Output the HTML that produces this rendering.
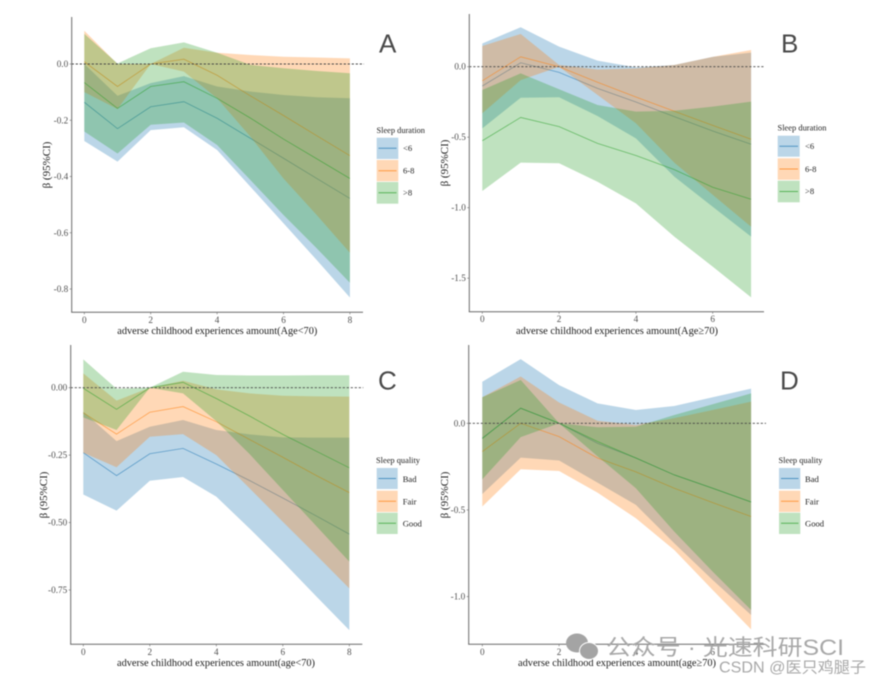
<!DOCTYPE html>
<html lang="en">
<head>
<meta charset="utf-8">
<title>Sleep and adverse childhood experiences</title>
<style>
html,body{margin:0;padding:0;background:#fff;width:870px;height:682px;overflow:hidden}
svg{display:block;filter:blur(0.5px)}
.tt{font-family:"Liberation Serif",serif;font-size:11px;fill:#1c1c1c}
.lt{font-family:"Liberation Serif",serif;font-size:8.6px;fill:#1c1c1c}
.li{font-family:"Liberation Serif",serif;font-size:8.6px;fill:#222}
.tick{font-family:"Liberation Serif",serif;font-size:9.2px;fill:#505050}
.tag{font-family:"Liberation Sans",sans-serif;font-size:26px;fill:#4a4a4a}
.wm{font-family:"Liberation Sans","Noto Sans CJK SC",sans-serif;fill:#a8a8a8}
</style>
</head>
<body>
<svg id="fig" xmlns="http://www.w3.org/2000/svg" width="870" height="682" viewBox="0 0 870 682">
  <rect width="870" height="682" fill="#fff"/>
  <g id="plots"></g>

  <text class="tag" x="379" y="52.5">A</text>
  <text class="tag" x="781" y="52.5">B</text>
  <text class="tag" x="378" y="389.5">C</text>
  <text class="tag" x="780" y="389.5">D</text>

  <text class="tt" x="217.3" y="334" text-anchor="middle" textLength="200" lengthAdjust="spacingAndGlyphs">adverse childhood experiences amount(Age&lt;70)</text>
  <text class="tt" x="617" y="334" text-anchor="middle" textLength="202" lengthAdjust="spacingAndGlyphs">adverse childhood experiences amount(Age≥70)</text>
  <text class="tt" x="216" y="666" text-anchor="middle" textLength="198" lengthAdjust="spacingAndGlyphs">adverse childhood experiences amount(age&lt;70)</text>
  <text class="tt" x="617" y="666" text-anchor="middle" textLength="198" lengthAdjust="spacingAndGlyphs">adverse childhood experiences amount(age≥70)</text>

  <text class="tt" transform="translate(50,165) rotate(-90)" text-anchor="middle">β (95%CI)</text>
  <text class="tt" transform="translate(448,163) rotate(-90)" text-anchor="middle">β (95%CI)</text>
  <text class="tt" transform="translate(47,495) rotate(-90)" text-anchor="middle">β (95%CI)</text>
  <text class="tt" transform="translate(448,495) rotate(-90)" text-anchor="middle">β (95%CI)</text>

  <g>
    <text class="lt" x="376.5" y="133" textLength="48.5" lengthAdjust="spacingAndGlyphs">Sleep duration</text>
    <rect x="376.7" y="137.7" width="21.6" height="21.3" fill="#1f77b4" fill-opacity=".3"/>
    <line x1="378.5" x2="396.5" y1="148.3" y2="148.3" stroke="#1f77b4" stroke-opacity=".7"/>
    <text class="li" x="403" y="151">&lt;6</text>
    <rect x="376.7" y="160" width="21.6" height="21.3" fill="#ff7f0e" fill-opacity=".3"/>
    <line x1="378.5" x2="396.5" y1="170.7" y2="170.7" stroke="#ff7f0e" stroke-opacity=".7"/>
    <text class="li" x="403" y="173.5">6-8</text>
    <rect x="376.7" y="182" width="21.6" height="21.7" fill="#2ca02c" fill-opacity=".3"/>
    <line x1="378.5" x2="396.5" y1="192.8" y2="192.8" stroke="#2ca02c" stroke-opacity=".7"/>
    <text class="li" x="403" y="195.5">&gt;8</text>
  </g>

  <g>
    <text class="lt" x="777.5" y="130.5" textLength="49" lengthAdjust="spacingAndGlyphs">Sleep duration</text>
    <rect x="777.7" y="135.7" width="22" height="21" fill="#1f77b4" fill-opacity=".3"/>
    <line x1="779.5" x2="798" y1="146.2" y2="146.2" stroke="#1f77b4" stroke-opacity=".7"/>
    <text class="li" x="805" y="149">&lt;6</text>
    <rect x="777.7" y="158.3" width="22" height="21.5" fill="#ff7f0e" fill-opacity=".3"/>
    <line x1="779.5" x2="798" y1="169" y2="169" stroke="#ff7f0e" stroke-opacity=".7"/>
    <text class="li" x="805" y="172">6-8</text>
    <rect x="777.7" y="180.7" width="22" height="21.6" fill="#2ca02c" fill-opacity=".3"/>
    <line x1="779.5" x2="798" y1="191.5" y2="191.5" stroke="#2ca02c" stroke-opacity=".7"/>
    <text class="li" x="805" y="194">&gt;8</text>
  </g>

  <g>
    <text class="lt" x="376" y="463" textLength="44" lengthAdjust="spacingAndGlyphs">Sleep quality</text>
    <rect x="376.7" y="468" width="21" height="21" fill="#1f77b4" fill-opacity=".3"/>
    <line x1="378.5" x2="396" y1="478.5" y2="478.5" stroke="#1f77b4" stroke-opacity=".7"/>
    <text class="li" x="402.7" y="482">Bad</text>
    <rect x="376.7" y="490.7" width="21" height="21.3" fill="#ff7f0e" fill-opacity=".3"/>
    <line x1="378.5" x2="396" y1="501.3" y2="501.3" stroke="#ff7f0e" stroke-opacity=".7"/>
    <text class="li" x="402.7" y="504.5">Fair</text>
    <rect x="376.7" y="512.7" width="21" height="21.3" fill="#2ca02c" fill-opacity=".3"/>
    <line x1="378.5" x2="396" y1="523.3" y2="523.3" stroke="#2ca02c" stroke-opacity=".7"/>
    <text class="li" x="402.7" y="526.5">Good</text>
  </g>

  <g>
    <text class="lt" x="778.5" y="463" textLength="44" lengthAdjust="spacingAndGlyphs">Sleep quality</text>
    <rect x="779" y="468" width="21.3" height="21" fill="#1f77b4" fill-opacity=".3"/>
    <line x1="781" x2="798.5" y1="478.5" y2="478.5" stroke="#1f77b4" stroke-opacity=".7"/>
    <text class="li" x="805" y="482">Bad</text>
    <rect x="779" y="490.7" width="21.3" height="21.3" fill="#ff7f0e" fill-opacity=".3"/>
    <line x1="781" x2="798.5" y1="501.3" y2="501.3" stroke="#ff7f0e" stroke-opacity=".7"/>
    <text class="li" x="805" y="504.5">Fair</text>
    <rect x="779" y="512.7" width="21.3" height="21.3" fill="#2ca02c" fill-opacity=".3"/>
    <line x1="781" x2="798.5" y1="523.3" y2="523.3" stroke="#2ca02c" stroke-opacity=".7"/>
    <text class="li" x="805" y="526.5">Good</text>
  </g>

  <g>
    <g fill="#a4a4a4">
      <ellipse cx="577" cy="643" rx="11" ry="9.5"/>
      <ellipse cx="589" cy="651" rx="9.5" ry="8.5" stroke="#fff" stroke-width="1"/>
    </g>
    <text class="wm" x="606" y="655" font-size="22" textLength="238" lengthAdjust="spacingAndGlyphs">公众号 · 光速科研SCI</text>
    <text class="wm" x="719" y="672.5" font-size="15.5" textLength="147" lengthAdjust="spacingAndGlyphs">CSDN @医只鸡腿子</text>
  </g>
</svg>

<script>
// ---- Shared categories and colours ----
const amountsToEight = [0, 1, 2, 3, 4, 5, 6, 7, 8];
const amountsToSeven = [0, 1, 2, 3, 4, 5, 6, 7];
const xTicksEight = [0, 2, 4, 6, 8];
const xTicksSix = [0, 2, 4, 6];

// ---- Panel A ----
const aShortMean  = [-0.136, -0.230, -0.152, -0.134, -0.193, -0.264, -0.335, -0.407, -0.478];
const aShortUpper = [0.000, -0.113, -0.068, -0.043, -0.080, -0.098, -0.110, -0.118, -0.122];
const aShortLower = [-0.274, -0.347, -0.235, -0.225, -0.306, -0.436, -0.566, -0.697, -0.830];
const aMidMean    = [0.008, -0.080, 0.000, 0.017, -0.040, -0.113, -0.183, -0.255, -0.326];
const aMidUpper   = [0.118, 0.000, 0.000, 0.058, 0.040, 0.032, 0.026, 0.023, 0.020];
const aMidLower   = [-0.100, -0.160, 0.000, -0.027, -0.122, -0.258, -0.407, -0.537, -0.671];
const aLongMean   = [-0.066, -0.158, -0.080, -0.063, -0.122, -0.192, -0.267, -0.337, -0.407];
const aLongUpper  = [0.107, 0.002, 0.056, 0.077, 0.040, -0.003, -0.015, -0.025, -0.033];
const aLongLower  = [-0.240, -0.318, -0.216, -0.208, -0.288, -0.412, -0.537, -0.655, -0.778];
const aYTicks = [0, -0.2, -0.4, -0.6, -0.8];
const aYLabels = ["0.0", "-0.2", "-0.4", "-0.6", "-0.8"];

// ---- Panel B ----
const bShortMean  = [-0.137, 0.028, -0.040, -0.154, -0.250, -0.354, -0.456, -0.550];
const bShortUpper = [0.165, 0.280, 0.142, 0.043, -0.005, 0.012, 0.070, 0.100];
const bShortLower = [-0.437, -0.220, -0.217, -0.350, -0.508, -0.780, -0.993, -1.205];
const bMidMean    = [-0.100, 0.070, 0.000, -0.110, -0.215, -0.316, -0.416, -0.515];
const bMidUpper   = [0.147, 0.232, 0.012, -0.020, -0.012, 0.012, 0.070, 0.118];
const bMidLower   = [-0.330, -0.095, 0.000, -0.200, -0.401, -0.680, -0.908, -1.135];
const bLongMean   = [-0.525, -0.360, -0.425, -0.544, -0.630, -0.730, -0.855, -0.940];
const bLongUpper  = [-0.165, -0.047, -0.160, -0.272, -0.319, -0.312, -0.283, -0.248];
const bLongLower  = [-0.882, -0.680, -0.685, -0.816, -0.969, -1.205, -1.418, -1.636];
const bYTicks = [0, -0.5, -1, -1.5];
const bYLabels = ["0.0", "-0.5", "-1.0", "-1.5"];

// ---- Panel C ----
const cBadMean   = [-0.241, -0.326, -0.245, -0.225, -0.283, -0.344, -0.409, -0.475, -0.543];
const cBadUpper  = [-0.089, -0.198, -0.145, -0.120, -0.157, -0.173, -0.184, -0.185, -0.185];
const cBadLower  = [-0.396, -0.456, -0.345, -0.331, -0.404, -0.522, -0.645, -0.773, -0.899];
const cFairMean  = [-0.093, -0.172, -0.091, -0.070, -0.126, -0.192, -0.258, -0.325, -0.389];
const cFairUpper = [0.053, -0.048, 0.000, 0.026, -0.006, -0.021, -0.030, -0.032, -0.033];
const cFairLower = [-0.241, -0.295, -0.182, -0.172, -0.250, -0.373, -0.497, -0.620, -0.744];
const cGoodMean  = [-0.002, -0.080, 0.000, 0.020, -0.040, -0.105, -0.173, -0.235, -0.297];
const cGoodUpper = [0.105, -0.004, 0.000, 0.059, 0.047, 0.045, 0.045, 0.046, 0.046];
const cGoodLower = [-0.110, -0.157, 0.000, -0.021, -0.124, -0.246, -0.379, -0.512, -0.645];
const cYTicks = [0, -0.25, -0.5, -0.75];
const cYLabels = ["0.00", "-0.25", "-0.50", "-0.75"];

// ---- Panel D ----
const dBadMean   = [-0.085, 0.087, 0.000, -0.115, -0.200, -0.298, -0.375, -0.454];
const dBadUpper  = [0.240, 0.370, 0.220, 0.115, 0.077, 0.100, 0.150, 0.200];
const dBadLower  = [-0.408, -0.198, -0.215, -0.342, -0.471, -0.692, -0.904, -1.106];
const dFairMean  = [-0.163, 0.000, -0.077, -0.200, -0.280, -0.375, -0.458, -0.538];
const dFairUpper = [0.150, 0.270, 0.120, 0.015, -0.010, 0.030, 0.077, 0.125];
const dFairLower = [-0.480, -0.265, -0.275, -0.400, -0.548, -0.731, -0.962, -1.189];
const dGoodMean  = [-0.088, 0.087, 0.000, -0.105, -0.200, -0.298, -0.375, -0.454];
const dGoodUpper = [0.150, 0.250, 0.000, -0.023, -0.020, 0.048, 0.110, 0.173];
const dGoodLower = [-0.323, -0.080, 0.000, -0.190, -0.375, -0.625, -0.856, -1.077];
const dYTicks = [0, -0.5, -1];
const dYLabels = ["0.0", "-0.5", "-1.0"];

const seriesColors = ["#1f77b4", "#ff7f0e", "#2ca02c"];
const NS = "http://www.w3.org/2000/svg";

function make(tag, attrs, parent) {
  const el = document.createElementNS(NS, tag);
  for (const k in attrs) el.setAttribute(k, attrs[k]);
  parent.appendChild(el);
  return el;
}

function drawPanel(id, frame, xs, xTicks, yTicks, yLabels, series) {
  const root = document.getElementById("plots");
  const scaleX = v => frame.x0 + v * frame.xUnit;
  const scaleY = v => frame.y0 - v * frame.yUnit;

  const g = make("g", {}, root);
  
  

  series.forEach((s, i) => {
    const up = s.upper.map((v, k) => scaleX(xs[k]).toFixed(2) + "," + scaleY(v).toFixed(2));
    const lo = s.lower.map((v, k) => scaleX(xs[k]).toFixed(2) + "," + scaleY(v).toFixed(2)).reverse();
    const band = make("polygon", { points: up.concat(lo).join(" "), fill: seriesColors[i], "fill-opacity": 0.3 }, g);
    
    
    const pts = s.mean.map((v, k) => scaleX(xs[k]).toFixed(2) + "," + scaleY(v).toFixed(2)).join(" ");
    const line = make("polyline", { points: pts, fill: "none", stroke: seriesColors[i], "stroke-width": 0.8, "stroke-opacity": 0.6 }, g);
    
    
  });

  const ref = make("line", { x1: frame.left, x2: frame.right + 1, y1: scaleY(0), y2: scaleY(0), stroke: "#444", "stroke-width": 0.9, "stroke-dasharray": "2.2 1.8" }, g);
  
  

  const yAxis = make("line", { x1: frame.left, x2: frame.left, y1: frame.top, y2: frame.bottom, stroke: "#6a6a6a", "stroke-width": 1 }, g);
  
  
  const xAxis = make("line", { x1: frame.left - 0.5, x2: frame.right, y1: frame.bottom, y2: frame.bottom, stroke: "#6a6a6a", "stroke-width": 1 }, g);
  
  

  xTicks.forEach(v => {
    const mark = make("line", { x1: scaleX(v), x2: scaleX(v), y1: frame.bottom, y2: frame.bottom + 2, stroke: "#777", "stroke-width": 0.7 }, g);
    
    
    const label = make("text", { class: "tick", x: scaleX(v), y: frame.bottom + 10.5, "text-anchor": "middle" }, g);
    
    
    label.textContent = String(v);
  });

  yTicks.forEach((v, i) => {
    const mark = make("line", { x1: frame.left - 2, x2: frame.left, y1: scaleY(v), y2: scaleY(v), stroke: "#777", "stroke-width": 0.7 }, g);
    
    
    const label = make("text", { class: "tick", x: frame.left - 3.5, y: scaleY(v) + 3, "text-anchor": "end" }, g);
    
    
    label.textContent = yLabels[i];
  });
}

drawPanel("a", { x0: 84.3, xUnit: 33.2, y0: 64, yUnit: 281.25, left: 71.7, bottom: 312.3, right: 363, top: 17 },
  amountsToEight, xTicksEight, aYTicks, aYLabels, [
    { name: "short", mean: aShortMean, upper: aShortUpper, lower: aShortLower },
    { name: "mid", mean: aMidMean, upper: aMidUpper, lower: aMidLower },
    { name: "long", mean: aLongMean, upper: aLongUpper, lower: aLongLower }
  ]);

drawPanel("b", { x0: 482.3, xUnit: 38.4, y0: 66.7, yUnit: 141, left: 469.3, bottom: 311.7, right: 764, top: 14 },
  amountsToSeven, xTicksSix, bYTicks, bYLabels, [
    { name: "short", mean: bShortMean, upper: bShortUpper, lower: bShortLower },
    { name: "mid", mean: bMidMean, upper: bMidUpper, lower: bMidLower },
    { name: "long", mean: bLongMean, upper: bLongUpper, lower: bLongLower }
  ]);

drawPanel("c", { x0: 83.3, xUnit: 33.25, y0: 387.7, yUnit: 269.7, left: 70.7, bottom: 644.3, right: 362.3, top: 345 },
  amountsToEight, xTicksEight, cYTicks, cYLabels, [
    { name: "bad", mean: cBadMean, upper: cBadUpper, lower: cBadLower },
    { name: "fair", mean: cFairMean, upper: cFairUpper, lower: cFairLower },
    { name: "good", mean: cGoodMean, upper: cGoodUpper, lower: cGoodLower }
  ]);

drawPanel("d", { x0: 482.3, xUnit: 38.4, y0: 423.3, yUnit: 173.3, left: 468.7, bottom: 644.3, right: 765, top: 345 },
  amountsToSeven, xTicksSix, dYTicks, dYLabels, [
    { name: "bad", mean: dBadMean, upper: dBadUpper, lower: dBadLower },
    { name: "fair", mean: dFairMean, upper: dFairUpper, lower: dFairLower },
    { name: "good", mean: dGoodMean, upper: dGoodUpper, lower: dGoodLower }
  ]);
</script>
</body>
</html>
